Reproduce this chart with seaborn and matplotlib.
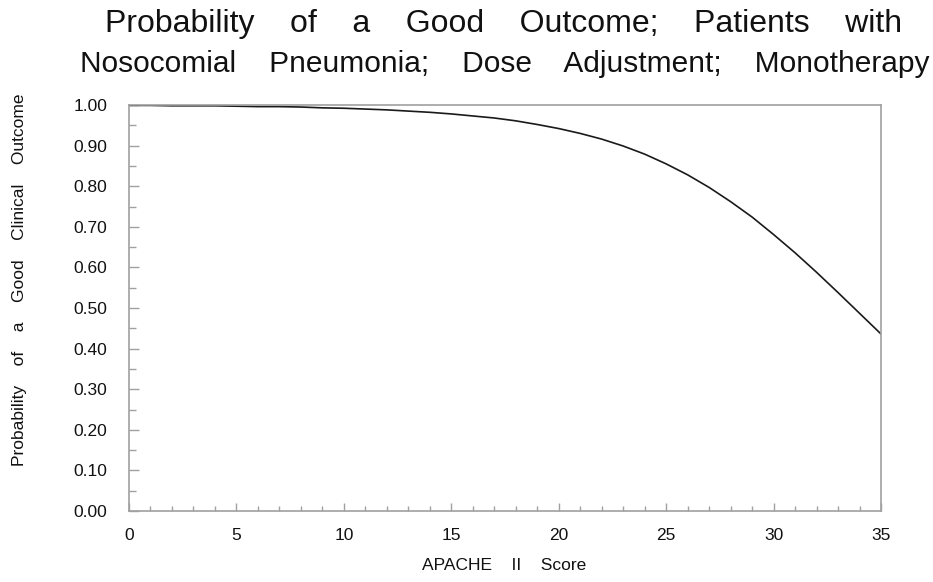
import matplotlib
matplotlib.use("Agg")
import matplotlib.pyplot as plt
import seaborn as sns
import pandas as pd
from matplotlib.ticker import MultipleLocator, FormatStrFormatter

apache_score = list(range(0, 36))
prob_good = [0.999, 0.999, 0.998, 0.998, 0.998, 0.997, 0.996, 0.996, 0.995, 0.993,
             0.992, 0.990, 0.988, 0.985, 0.982, 0.978, 0.973, 0.968, 0.961, 0.952,
             0.942, 0.930, 0.916, 0.899, 0.879, 0.855, 0.828, 0.797, 0.762, 0.724,
             0.681, 0.636, 0.588, 0.538, 0.487, 0.436]

title_line1 = "Probability    of    a    Good    Outcome;    Patients    with"
title_line2 = "Nosocomial    Pneumonia;    Dose    Adjustment;    Monotherapy"
x_label = "APACHE    II    Score"
y_label = "Probability    of    a    Good    Clinical    Outcome"

df = pd.DataFrame({"score": apache_score, "prob": prob_good})

sns.set_theme(style="white")
plt.rcParams['font.family'] = ['Liberation Sans', 'DejaVu Sans']

fig = plt.figure(figsize=(9.33, 5.82), dpi=100)
ax = fig.add_axes([129 / 933, 71 / 582, 752 / 933, 406 / 582])

sns.lineplot(data=df, x="score", y="prob", ax=ax, color="#1a1a1a", linewidth=1.2)

ax.set_xlim(0, 35)
ax.set_ylim(0, 1.0)
ax.xaxis.set_major_locator(MultipleLocator(5))
ax.xaxis.set_minor_locator(MultipleLocator(1))
ax.yaxis.set_major_locator(MultipleLocator(0.1))
ax.yaxis.set_minor_locator(MultipleLocator(0.05))
ax.yaxis.set_major_formatter(FormatStrFormatter("%.2f"))

for s in ax.spines.values():
    s.set_color("#a0a0a0")
    s.set_linewidth(1.2)

ax.tick_params(axis="y", which="major", direction="in", length=7.2, width=1,
               color="#a0a0a0", labelsize=12.5, labelcolor="#111111", pad=15.5)
ax.tick_params(axis="y", which="minor", direction="in", length=5, width=1,
               color="#a0a0a0")
ax.tick_params(axis="x", which="major", direction="in", length=5.5, width=1,
               color="#a0a0a0", labelsize=12.5, labelcolor="#111111", pad=12)
ax.tick_params(axis="x", which="minor", direction="in", length=3.3, width=1,
               color="#a0a0a0")
ax.tick_params(bottom=True, left=True, which="both")

ax.set_xlabel(x_label, fontsize=12.5, color="#111111", va="top")
ax.xaxis.set_label_coords(0.4987, -0.116)
ax.set_ylabel(y_label, fontsize=12.5, color="#111111", va="center")
ax.yaxis.set_label_coords(-0.146, 0.569)

fig.text(0.540, 1 - 32 / 582, title_line1, ha="center", va="baseline",
         fontsize=23, color="#111111")
fig.text(0.541, 1 - 72 / 582, title_line2, ha="center", va="baseline",
         fontsize=21.5, color="#111111")

fig.savefig("out.png", dpi=100)
